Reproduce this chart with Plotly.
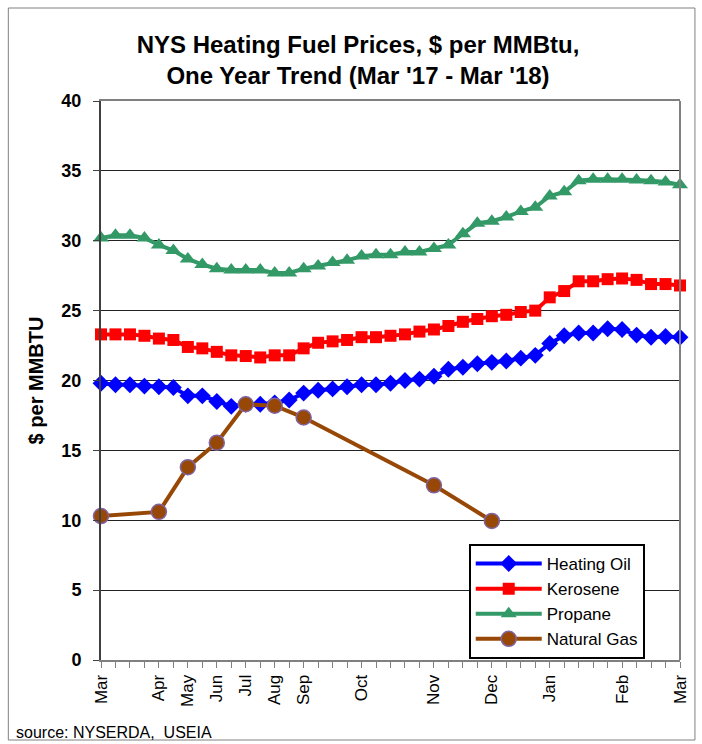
import plotly.graph_objects as go

# ---- data ----
week_index = list(range(41))
month_labels = ["Mar", "Apr", "May", "Jun", "Jul", "Aug", "Sep", "Oct", "Nov", "Dec", "Jan", "Feb", "Mar"]
month_label_week = [0, 4, 6, 8, 10, 12, 14, 18, 23, 27, 31, 36, 40]

heating_oil = [19.8, 19.7, 19.7, 19.6, 19.55, 19.5, 18.9, 18.9, 18.5, 18.15,
               18.3, 18.3, 18.4, 18.6, 19.1, 19.3, 19.4, 19.55, 19.7, 19.7,
               19.8, 20.0, 20.1, 20.3, 20.8, 20.95, 21.2, 21.3, 21.4, 21.6,
               21.8, 22.65, 23.2, 23.4, 23.4, 23.7, 23.65, 23.25, 23.1, 23.15, 23.1]
kerosene = [23.3, 23.3, 23.3, 23.2, 23.0, 22.9, 22.4, 22.3, 22.05, 21.8,
            21.75, 21.65, 21.8, 21.8, 22.3, 22.7, 22.8, 22.9, 23.1, 23.1,
            23.2, 23.3, 23.5, 23.65, 23.9, 24.2, 24.4, 24.6, 24.7, 24.9,
            25.0, 25.95, 26.4, 27.1, 27.1, 27.25, 27.3, 27.2, 26.9, 26.9, 26.8]
propane = [30.2, 30.4, 30.4, 30.2, 29.7, 29.3, 28.7, 28.3, 28.0, 27.9,
           27.9, 27.9, 27.7, 27.7, 28.0, 28.2, 28.45, 28.6, 28.9, 29.0,
           29.0, 29.2, 29.2, 29.45, 29.7, 30.5, 31.25, 31.4, 31.7, 32.1,
           32.4, 33.2, 33.5, 34.3, 34.4, 34.4, 34.4, 34.35, 34.3, 34.2, 34.0]
natural_gas = [10.3, None, None, None, 10.6, None, 13.8, None, 15.55, None,
               18.3, None, 18.2, None, 17.35, None, None, None, None, None,
               None, None, None, 12.5, None, None, None, 9.95, None, None,
               None, None, None, None, None, None, None, None, None, None, None]

y_ticks = [0, 5, 10, 15, 20, 25, 30, 35, 40]

FONT = "Liberation Sans, Arial, sans-serif"

fig = go.Figure()
fig.add_trace(go.Scatter(x=week_index, y=heating_oil, name="Heating Oil", mode="lines+markers",
                         line=dict(color="#0000FF", width=4),
                         marker=dict(symbol="diamond", size=13, color="#0000FF"), cliponaxis=False))
fig.add_trace(go.Scatter(x=week_index, y=kerosene, name="Kerosene", mode="lines+markers",
                         line=dict(color="#FF0000", width=4),
                         marker=dict(symbol="square", size=12, color="#FF0000"), cliponaxis=False))
fig.add_trace(go.Scatter(x=week_index, y=propane, name="Propane", mode="lines+markers",
                         line=dict(color="#339966", width=4),
                         marker=dict(symbol="triangle-up", size=14, color="#339966"), cliponaxis=False))
fig.add_trace(go.Scatter(x=week_index, y=natural_gas, name="Natural Gas", mode="lines+markers",
                         connectgaps=True,
                         line=dict(color="#974806", width=4),
                         marker=dict(symbol="circle", size=15, color="#974806",
                                     line=dict(color="#8064A2", width=1.5)), cliponaxis=False))

fig.update_layout(
    width=702, height=744,
    margin=dict(l=101, r=20, t=101, b=84),
    paper_bgcolor="white", plot_bgcolor="white",
    font=dict(family=FONT, color="black"),
    title=dict(text="NYS Heating Fuel Prices, $ per MMBtu,<br>One Year Trend (Mar '17 - Mar '18)",
               x=0.51, xanchor="center", xref="container",
               y=1 - 53 / 744, yanchor="top",
               font=dict(size=24, family=FONT, weight="bold", color="black")),
    xaxis=dict(range=[0, 40], tickmode="array", tickvals=month_label_week, ticktext=month_labels,
               tickangle=-90, tickfont=dict(size=17, family=FONT),
               ticks="outside", ticklen=6, tickcolor="#808080",
               minor=dict(dtick=1, tick0=0, ticks="outside", ticklen=6, tickcolor="#808080"),
               showgrid=False, zeroline=False, showline=True, linecolor="#808080", linewidth=2,
               mirror=True),
    yaxis=dict(range=[0, 40], tickmode="array", tickvals=y_ticks,
               tickfont=dict(size=18, family=FONT, weight="bold"),
               ticks="outside", ticklen=6, tickcolor="#404040", ticklabelstandoff=8,
               showgrid=True, gridcolor="#222222", gridwidth=1,
               zeroline=False, showline=True, linecolor="#404040", linewidth=2,
               title=dict(text="$ per MMBTU", font=dict(size=20, family=FONT, weight="bold"), standoff=12)),
    legend=dict(x=(470 - 101) / 581, y=(660 - 544) / 559, xanchor="left", yanchor="top",
                bgcolor="white", bordercolor="black", borderwidth=2,
                font=dict(size=17, family=FONT), tracegroupgap=0, itemwidth=66,
                entrywidth=200, entrywidthmode="pixels"),
    showlegend=True,
)

# right border of plot area (gray)
fig.add_shape(type="line", xref="paper", yref="paper", x0=1, x1=1, y0=0, y1=1,
              line=dict(color="#808080", width=2))
# outer chart frame
fig.add_shape(type="rect", xref="paper", yref="paper",
              x0=(8 - 101) / 581, x1=(697 - 101) / 581,
              y0=(660 - 740) / 559, y1=(660 - 8) / 559,
              line=dict(color="#808080", width=1))

fig.add_annotation(text="source: NYSERDA,  USEIA", xref="paper", yref="paper",
                   x=(14 - 101) / 581, y=(660 - 732) / 559, xanchor="left", yanchor="middle",
                   showarrow=False, font=dict(size=16, family=FONT, color="black"))

fig.write_html("out.html", config={"displayModeBar": False},
               post_script="document.body.style.margin='0px';")
